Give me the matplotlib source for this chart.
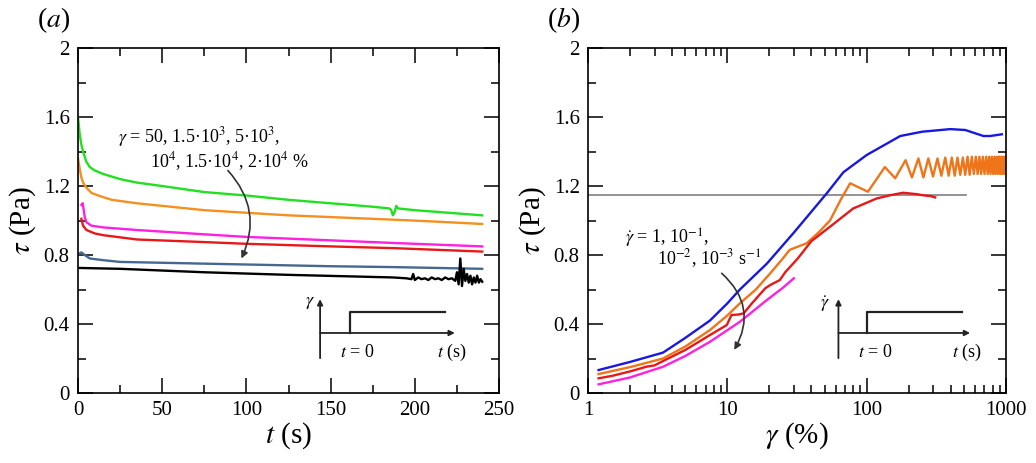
import matplotlib
matplotlib.use("Agg")
import matplotlib.pyplot as plt
from matplotlib.ticker import MultipleLocator, LogLocator, NullFormatter, FixedLocator, FixedFormatter

plt.rcParams['font.family'] = ['Liberation Serif', 'DejaVu Serif']
plt.rcParams['mathtext.fontset'] = 'stix'

# ---- panel (a): stress relaxation after a strain step ----
t_green = [0, 0.5, 1, 2, 3, 5, 7, 10, 15, 25, 35, 50, 75, 100, 125, 150, 175, 185, 186, 187, 188, 189, 190, 200, 220, 240]
tau_green = [1.60, 1.55, 1.50, 1.44, 1.40, 1.34, 1.31, 1.29, 1.27, 1.24, 1.22, 1.20, 1.165, 1.145, 1.12, 1.10, 1.08, 1.07, 1.06, 1.03, 1.05, 1.085, 1.07, 1.06, 1.045, 1.03]

t_orange = [0, 1, 2, 3, 5, 8, 12, 20, 35, 50, 75, 100, 125, 150, 187, 210, 240]
tau_orange = [1.36, 1.30, 1.25, 1.22, 1.19, 1.16, 1.145, 1.12, 1.10, 1.085, 1.06, 1.045, 1.03, 1.02, 1.005, 0.995, 0.98]

t_magenta = [2, 2.8, 4, 5, 8, 15, 35, 75, 100, 150, 187, 240]
tau_magenta = [1.09, 1.10, 1.02, 0.99, 0.97, 0.96, 0.945, 0.92, 0.905, 0.885, 0.87, 0.85]

t_red = [2, 3, 5, 10, 15, 35, 75, 100, 150, 187, 240]
tau_red = [1.01, 0.97, 0.945, 0.925, 0.915, 0.89, 0.875, 0.865, 0.85, 0.84, 0.82]

t_blue = [1, 2, 4, 7, 15, 25, 75, 150, 187, 240]
tau_blue = [0.81, 0.815, 0.80, 0.78, 0.77, 0.76, 0.75, 0.735, 0.73, 0.72]

t_black = [1, 25, 75, 125, 187, 195, 198, 199, 200, 202, 204, 206, 208, 210, 212, 214, 216, 218, 220, 222,
           224, 225, 226, 227, 228, 229, 230, 231, 232, 233, 234, 235, 236, 237, 238, 239, 240]
tau_black = [0.725, 0.72, 0.70, 0.685, 0.67, 0.665, 0.66, 0.69, 0.655, 0.67, 0.66, 0.665, 0.655, 0.67, 0.66, 0.665, 0.655, 0.67, 0.66, 0.665,
             0.65, 0.70, 0.63, 0.78, 0.62, 0.72, 0.65, 0.69, 0.64, 0.68, 0.63, 0.67, 0.64, 0.68, 0.64, 0.66, 0.645]

# ---- panel (b): stress growth vs strain at constant shear rate ----
g_blue = [1.19, 2.0, 3.45, 5.0, 7.5, 10, 12.3, 19.2, 30, 51.7, 68, 100, 174, 250, 397, 509, 689, 769, 933]
s_blue = [0.133, 0.18, 0.234, 0.32, 0.42, 0.52, 0.60, 0.75, 0.93, 1.158, 1.28, 1.38, 1.49, 1.515, 1.53, 1.525, 1.49, 1.49, 1.50]

g_orange = [1.19, 2, 3.45, 5, 7.5, 10, 12.3, 16, 20.3, 25, 28, 37, 45, 54.5, 65, 76, 102, 135, 160,
            190, 211, 235, 255, 277, 299, 322, 343, 366, 387, 408, 428, 448, 469, 490, 509, 529, 548,
            568, 587, 607, 625, 644, 662, 681, 700, 720, 738, 756, 773, 791, 808, 826, 842, 859, 875,
            892, 907, 922, 937, 953, 969, 986, 1000]
s_orange = [0.11, 0.15, 0.20, 0.27, 0.365, 0.45, 0.52, 0.60, 0.694, 0.78, 0.83, 0.868, 0.93, 1.0, 1.12, 1.216, 1.167, 1.31, 1.245,
            1.35, 1.25, 1.36, 1.25, 1.36, 1.255, 1.36, 1.26, 1.365, 1.26, 1.365, 1.26, 1.365, 1.265, 1.365, 1.265, 1.37, 1.265,
            1.37, 1.27, 1.37, 1.27, 1.37, 1.27, 1.37, 1.27, 1.37, 1.27, 1.37, 1.27, 1.37, 1.27, 1.37, 1.27, 1.37, 1.27,
            1.37, 1.27, 1.37, 1.27, 1.37, 1.27, 1.37, 1.28]

g_red = [1.19, 1.5, 2.0, 2.64, 3.0, 3.45, 5, 7.5, 9.9, 10.7, 12, 13.1, 15, 18.7, 20.3, 23.8, 26, 32, 40, 54.5,
         80, 118, 150, 183, 228, 260, 286, 310]
s_red = [0.085, 0.10, 0.125, 0.153, 0.16, 0.185, 0.25, 0.336, 0.394, 0.452, 0.455, 0.462, 0.52, 0.607, 0.626, 0.655, 0.70, 0.78, 0.88, 0.964,
         1.07, 1.128, 1.148, 1.161, 1.153, 1.145, 1.142, 1.134]

g_magenta = [1.19, 2, 3.45, 5, 7.5, 12.3, 19.2, 25, 30]
s_magenta = [0.05, 0.09, 0.152, 0.215, 0.297, 0.413, 0.539, 0.61, 0.665]

g_ref = [1, 520]
s_ref = [1.148, 1.148]

fig = plt.figure(figsize=(10.36, 4.63), dpi=100)
ax1 = fig.add_axes([0.0753, 0.1512, 0.4064, 0.745])
ax2 = fig.add_axes([0.5676, 0.1512, 0.4035, 0.745])

lw = 1.7
ax1.plot(t_green, tau_green, color='#20e020', lw=lw)
ax1.plot(t_orange, tau_orange, color='#f39020', lw=lw)
ax1.plot(t_magenta, tau_magenta, color='#ff20e0', lw=lw)
ax1.plot(t_red, tau_red, color='#e81818', lw=lw)
ax1.plot(t_blue, tau_blue, color='#456890', lw=lw)
ax1.plot(t_black, tau_black, color='black', lw=lw)

ax2.plot(g_ref, s_ref, color='#8a8a8a', lw=1.3)
ax2.plot(g_blue, s_blue, color='#1818e0', lw=lw)
ax2.plot(g_orange, s_orange, color='#f07418', lw=lw)
ax2.plot(g_red, s_red, color='#e81818', lw=lw)
ax2.plot(g_magenta, s_magenta, color='#ff20e0', lw=lw)

for ax in (ax1, ax2):
    ax.set_ylim(0, 2)
    ax.yaxis.set_major_locator(MultipleLocator(0.4))
    ax.yaxis.set_minor_locator(MultipleLocator(0.2))
    ax.yaxis.set_major_formatter(FixedFormatter(['0', '0.4', '0.8', '1.2', '1.6', '2']))
    ax.yaxis.set_major_locator(FixedLocator([0, 0.4, 0.8, 1.2, 1.6, 2.0]))
    ax.tick_params(which='both', direction='in', top=True, right=True, labelsize=15, width=1.1)
    ax.tick_params(which='major', length=10.5, pad=6)
    ax.tick_params(which='minor', length=6)
    for sp in ax.spines.values():
        sp.set_linewidth(1.2)
    ax.set_ylabel(r'$\tau$ (Pa)', fontsize=21, labelpad=4)

ax1.set_xlim(0, 250)
ax1.xaxis.set_major_locator(MultipleLocator(50))
ax1.xaxis.set_minor_locator(MultipleLocator(25))
ax1.set_xlabel(r'$t$ (s)', fontsize=21, labelpad=0)

ax2.set_xscale('log')
ax2.set_xlim(1, 1000)
ax2.xaxis.set_major_locator(FixedLocator([1, 10, 100, 1000]))
ax2.xaxis.set_major_formatter(FixedFormatter(['1', '10', '100', '1000']))
ax2.xaxis.set_minor_locator(LogLocator(base=10, subs=range(2, 10)))
ax2.xaxis.set_minor_formatter(NullFormatter())
ax2.set_xlabel(r'$\gamma$ (%)', fontsize=21, labelpad=0)

# annotations
ax1.text(23.8, 1.484, r'$\gamma$ = 50, 1.5·10$^3$, 5·10$^3$,', fontsize=13, va='center', ha='left')
ax1.text(42.8, 1.339, r'10$^4$, 1.5·10$^4$, 2·10$^4$ %', fontsize=13, va='center', ha='left')
ax1.annotate('', xy=(97, 0.78), xytext=(89, 1.29),
             arrowprops=dict(arrowstyle='-|>', color='#333333', lw=1.2, mutation_scale=10,
                             connectionstyle='arc3,rad=-0.33', shrinkA=0, shrinkB=0))

ax2.text(1.84, 0.899, r'$\dot{\gamma}$ = 1, 10$^{-1}$,', fontsize=13, va='center', ha='left')
ax2.text(3.11, 0.78, r'10$^{-2}$, 10$^{-3}$ s$^{-1}$', fontsize=13, va='center', ha='left')
ax2.annotate('', xy=(11.2, 0.25), xytext=(9.1, 0.694),
             arrowprops=dict(arrowstyle='-|>', color='#333333', lw=1.2, mutation_scale=10,
                             connectionstyle='arc3,rad=-0.4', shrinkA=0, shrinkB=0))

# step-input sketches
def step_sketch(ax, x0, xs, xe, xa, ylab, lab, lab_x, t0_x, ts_x):
    tr = ax.transAxes
    ax.annotate('', xy=(x0, 0.272), xytext=(x0, 0.101), xycoords=tr, textcoords=tr,
                arrowprops=dict(arrowstyle='-|>', color='#222222', lw=1.3, mutation_scale=8,
                                shrinkA=0, shrinkB=0))
    ax.annotate('', xy=(xa, 0.174), xytext=(x0, 0.174), xycoords=tr, textcoords=tr,
                arrowprops=dict(arrowstyle='-|>', color='#222222', lw=1.3, mutation_scale=8,
                                shrinkA=0, shrinkB=0))
    ax.plot([xs, xs, xe], [0.174, 0.235, 0.235], color='#222222', lw=1.6, transform=tr)
    ax.text(lab_x, ylab, lab, transform=tr, fontsize=13, ha='center', va='center')
    ax.text(t0_x, 0.118, r'$t$ = 0', transform=tr, fontsize=13, ha='center', va='center')
    ax.text(ts_x, 0.118, r'$t$ (s)', transform=tr, fontsize=13, ha='center', va='center')

step_sketch(ax1, 0.575, 0.646, 0.872, 0.895, 0.262, r'$\gamma$', 0.551, 0.663, 0.888)
step_sketch(ax2, 0.599, 0.668, 0.894, 0.914, 0.258, r'$\dot{\gamma}$', 0.567, 0.687, 0.906)

fig.text(0.0357, 0.957, r'($a$)', fontsize=20, ha='left', va='center')
fig.text(0.528, 0.957, r'($b$)', fontsize=20, ha='left', va='center')

fig.savefig('out.png', dpi=100)
